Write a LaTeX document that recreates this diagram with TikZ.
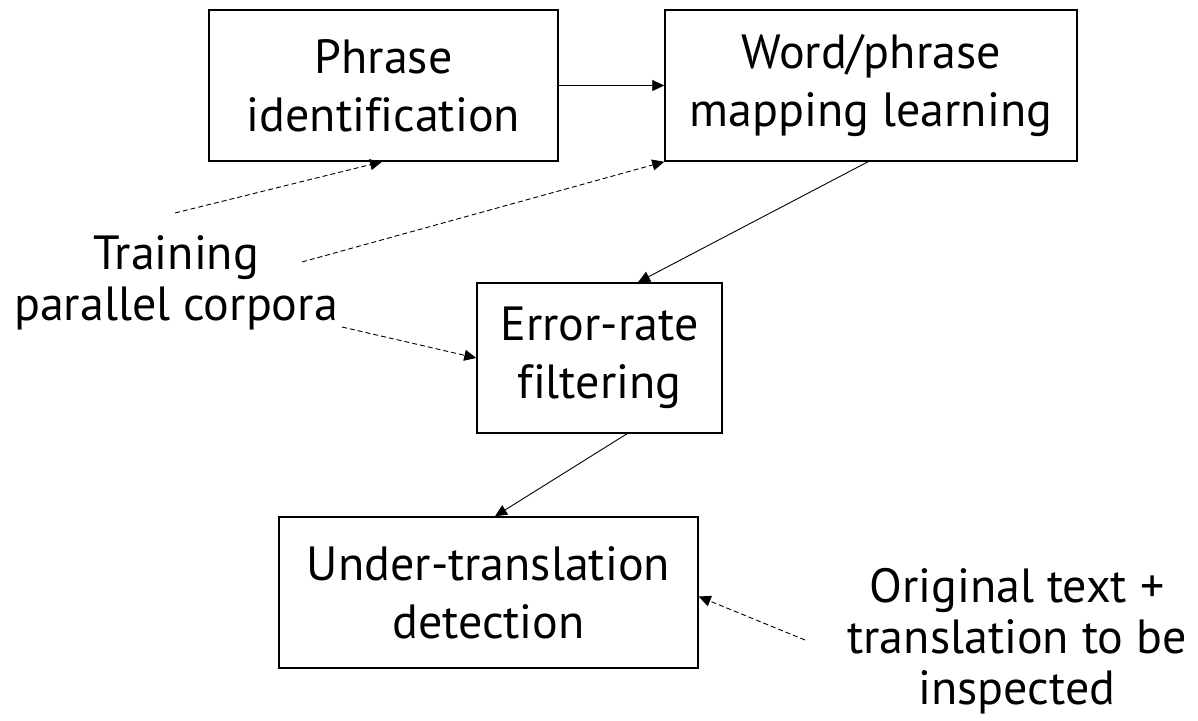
\documentclass[tikz,border=0pt]{standalone}
\usepackage{fontspec}
\setmainfont[Ligatures=NoCommon]{PT Sans}
\usetikzlibrary{arrows.meta}
\tikzset{
  box/.style={draw, line width=1.5pt, align=center, inner sep=0pt, font=\fontsize{48}{58}\selectfont},
  lbl/.style={align=center, inner sep=0pt, font=\fontsize{48}{51}\selectfont},
  flow/.style={line width=0.9pt, -{Triangle[length=12pt,width=11pt]}},
  feed/.style={line width=0.9pt, dash pattern=on 5pt off 3pt, -{Triangle[length=12pt,width=11pt]}}
}
\begin{document}
\begin{tikzpicture}[x=1pt,y=-1pt]
\useasboundingbox (0,0) rectangle (1198,720);
\node[box, minimum width=349pt, minimum height=151pt] (b1) at (383.5,85.5) {Phrase\\identification};
\node[box, minimum width=412pt, minimum height=151pt] (b2) at (871,85.5) {Word/phrase\\mapping learning};
\node[box, minimum width=245pt, minimum height=150pt] (b3) at (599.5,358) {Error-rate\\filtering};
\node[box, minimum width=419pt, minimum height=151pt] (b4) at (488.5,592.5) {Under-translation\\detection};
\node[lbl] (tr) at (176,283) {Training\\parallel corpora};
\node[lbl] (or) at (1017,641) {Original text +\\translation to be\\inspected};
\coordinate (s1) at (175,213);
\coordinate (s2) at (302,262);
\coordinate (s3) at (342,327);
\coordinate (s4) at (805,640);
\draw[flow] (b1) -- (b2);
\draw[flow] ([xshift=-3pt]b2.south) -- ([xshift=38.5pt]b3.north);
\draw[flow] ([xshift=27.5pt]b3.south) -- ([xshift=6.5pt]b4.north);
\draw[feed] (s1) -- ([xshift=-1.5pt]b1.south);
\draw[feed] (s2) -- (b2.south west);
\draw[feed] (s3) -- (b3.west);
\draw[feed] (s4) -- ([yshift=-4pt]b4.east);
\end{tikzpicture}
\end{document}
